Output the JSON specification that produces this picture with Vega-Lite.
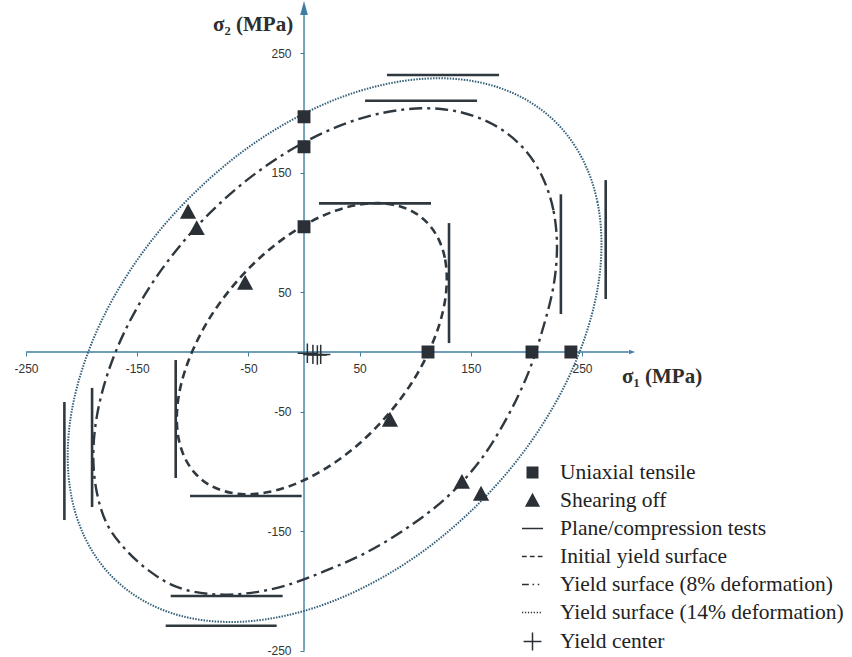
{
  "$schema": "https://vega.github.io/schema/vega-lite/v6.json",
  "width": 852,
  "height": 657,
  "autosize": {"type": "none"},
  "padding": 0,
  "background": "white",
  "config": {"view": {"stroke": null}},
  "datasets": {
    "axisLines": [
      {"s1": -250, "s2": 0, "s1e": 292, "s2e": 0},
      {"s1": 0, "s2": -250, "s1e": 0, "s2e": 286}
    ],
    "arrowX": [{"s1": 295, "s2": 0}],
    "arrowY": [{"s1": 0, "s2": 288}],
    "titles": [
      {"s1": 286, "s2": -20.7, "label": "σ₁ (MPa)"},
      {"s1": -81.8, "s2": 273.6, "label": "σ₂ (MPa)"}
    ],
    "planeTests": [
      {"s1": 13.5, "s2": 124.4, "s1e": 114.2, "s2e": 124.4},
      {"s1": 130.4, "s2": 7.5, "s1e": 130.4, "s2e": 107.9},
      {"s1": -102.5, "s2": -120.5, "s1e": -2.1, "s2e": -120.5},
      {"s1": -115.4, "s2": -6.7, "s1e": -115.4, "s2e": -105.4},
      {"s1": 54.9, "s2": 210.3, "s1e": 155.6, "s2e": 210.3},
      {"s1": 231, "s2": 31.8, "s1e": 231, "s2e": 132},
      {"s1": -119.9, "s2": -204.2, "s1e": -19.2, "s2e": -204.2},
      {"s1": -190.6, "s2": -30, "s1e": -190.6, "s2e": -129.7},
      {"s1": 74.6, "s2": 231.8, "s1e": 175.4, "s2e": 231.8},
      {"s1": 271.3, "s2": 44.4, "s1e": 271.3, "s2e": 143.9},
      {"s1": -124.4, "s2": -229, "s1e": -24.6, "s2e": -229},
      {"s1": -215.5, "s2": -41.8, "s1e": -215.5, "s2e": -140.6}
    ],
    "tests": [
      {"kind": "Uniaxial tensile", "s1": 0, "s2": 196.9},
      {"kind": "Uniaxial tensile", "s1": 0, "s2": 171.8},
      {"kind": "Uniaxial tensile", "s1": 0, "s2": 104.9},
      {"kind": "Uniaxial tensile", "s1": 111.5, "s2": 0},
      {"kind": "Uniaxial tensile", "s1": 205, "s2": 0},
      {"kind": "Uniaxial tensile", "s1": 240, "s2": 0},
      {"kind": "Shearing off", "s1": -53, "s2": 57.7},
      {"kind": "Shearing off", "s1": 77.3, "s2": -56.9},
      {"kind": "Shearing off", "s1": -96.5, "s2": 103.5},
      {"kind": "Shearing off", "s1": 142, "s2": -108.8},
      {"kind": "Shearing off", "s1": -104.3, "s2": 117.2},
      {"kind": "Shearing off", "s1": 159.2, "s2": -118.8},
      {"kind": "Yield center", "s1": 3, "s2": -1},
      {"kind": "Yield center", "s1": 8, "s2": -2},
      {"kind": "Yield center", "s1": 12, "s2": -2.5},
      {"kind": "Yield center", "s1": 15, "s2": -2}
    ],
    "surfaces": [
      {"surface": "initial", "i": 0, "s1": 128.4, "s2": 61.3},
      {"surface": "initial", "i": 1, "s1": 126.6, "s2": 78.9},
      {"surface": "initial", "i": 2, "s1": 121.1, "s2": 94.3},
      {"surface": "initial", "i": 3, "s1": 112.1, "s2": 106.9},
      {"surface": "initial", "i": 4, "s1": 100.0, "s2": 116.3},
      {"surface": "initial", "i": 5, "s1": 85.0, "s2": 122.2},
      {"surface": "initial", "i": 6, "s1": 67.7, "s2": 124.6},
      {"surface": "initial", "i": 7, "s1": 48.5, "s2": 123.2},
      {"surface": "initial", "i": 8, "s1": 28.1, "s2": 118.2},
      {"surface": "initial", "i": 9, "s1": 7.0, "s2": 109.6},
      {"surface": "initial", "i": 10, "s1": -14.1, "s2": 97.8},
      {"surface": "initial", "i": 11, "s1": -34.5, "s2": 83.2},
      {"surface": "initial", "i": 12, "s1": -53.7, "s2": 66.0},
      {"surface": "initial", "i": 13, "s1": -71.0, "s2": 47.0},
      {"surface": "initial", "i": 14, "s1": -86.0, "s2": 26.7},
      {"surface": "initial", "i": 15, "s1": -98.1, "s2": 5.5},
      {"surface": "initial", "i": 16, "s1": -107.1, "s2": -15.7},
      {"surface": "initial", "i": 17, "s1": -112.6, "s2": -36.3},
      {"surface": "initial", "i": 18, "s1": -114.4, "s2": -55.7},
      {"surface": "initial", "i": 19, "s1": -112.6, "s2": -73.3},
      {"surface": "initial", "i": 20, "s1": -107.1, "s2": -88.7},
      {"surface": "initial", "i": 21, "s1": -98.1, "s2": -101.3},
      {"surface": "initial", "i": 22, "s1": -86.0, "s2": -110.7},
      {"surface": "initial", "i": 23, "s1": -71.0, "s2": -116.6},
      {"surface": "initial", "i": 24, "s1": -53.7, "s2": -119.0},
      {"surface": "initial", "i": 25, "s1": -34.5, "s2": -117.6},
      {"surface": "initial", "i": 26, "s1": -14.1, "s2": -112.6},
      {"surface": "initial", "i": 27, "s1": 7.0, "s2": -104.0},
      {"surface": "initial", "i": 28, "s1": 28.1, "s2": -92.2},
      {"surface": "initial", "i": 29, "s1": 48.5, "s2": -77.6},
      {"surface": "initial", "i": 30, "s1": 67.7, "s2": -60.4},
      {"surface": "initial", "i": 31, "s1": 85.0, "s2": -41.4},
      {"surface": "initial", "i": 32, "s1": 100.0, "s2": -21.1},
      {"surface": "initial", "i": 33, "s1": 112.1, "s2": 0.1},
      {"surface": "initial", "i": 34, "s1": 121.1, "s2": 21.3},
      {"surface": "initial", "i": 35, "s1": 126.6, "s2": 41.9},
      {"surface": "8%", "i": 0, "s1": 227.5, "s2": 88.0},
      {"surface": "8%", "i": 1, "s1": 224.3, "s2": 118.6},
      {"surface": "8%", "i": 2, "s1": 214.9, "s2": 145.5},
      {"surface": "8%", "i": 3, "s1": 199.6, "s2": 168.2},
      {"surface": "8%", "i": 4, "s1": 178.7, "s2": 185.6},
      {"surface": "8%", "i": 5, "s1": 153.0, "s2": 197.4},
      {"surface": "8%", "i": 6, "s1": 123.3, "s2": 203.4},
      {"surface": "8%", "i": 7, "s1": 90.3, "s2": 203.0},
      {"surface": "8%", "i": 8, "s1": 55.2, "s2": 196.6},
      {"surface": "8%", "i": 9, "s1": 19.0, "s2": 184.2},
      {"surface": "8%", "i": 10, "s1": -17.2, "s2": 166.2},
      {"surface": "8%", "i": 11, "s1": -52.3, "s2": 143.2},
      {"surface": "8%", "i": 12, "s1": -85.3, "s2": 115.8},
      {"surface": "8%", "i": 13, "s1": -115.0, "s2": 85.0},
      {"surface": "8%", "i": 14, "s1": -140.7, "s2": 51.6},
      {"surface": "8%", "i": 15, "s1": -161.6, "s2": 16.6},
      {"surface": "8%", "i": 16, "s1": -176.9, "s2": -18.9},
      {"surface": "8%", "i": 17, "s1": -186.3, "s2": -53.8},
      {"surface": "8%", "i": 18, "s1": -189.5, "s2": -87.0},
      {"surface": "8%", "i": 19, "s1": -186.3, "s2": -117.6},
      {"surface": "8%", "i": 20, "s1": -176.9, "s2": -144.5},
      {"surface": "8%", "i": 21, "s1": -160.1, "s2": -165.7},
      {"surface": "8%", "i": 22, "s1": -139.2, "s2": -183.1},
      {"surface": "8%", "i": 23, "s1": -115.0, "s2": -196.4},
      {"surface": "8%", "i": 24, "s1": -85.3, "s2": -202.4},
      {"surface": "8%", "i": 25, "s1": -52.3, "s2": -202.0},
      {"surface": "8%", "i": 26, "s1": -17.2, "s2": -195.6},
      {"surface": "8%", "i": 27, "s1": 19.0, "s2": -183.2},
      {"surface": "8%", "i": 28, "s1": 57.2, "s2": -167.2},
      {"surface": "8%", "i": 29, "s1": 94.3, "s2": -146.2},
      {"surface": "8%", "i": 30, "s1": 129.3, "s2": -120.8},
      {"surface": "8%", "i": 31, "s1": 159.0, "s2": -90.0},
      {"surface": "8%", "i": 32, "s1": 182.7, "s2": -54.6},
      {"surface": "8%", "i": 33, "s1": 201.6, "s2": -17.6},
      {"surface": "8%", "i": 34, "s1": 214.9, "s2": 19.9},
      {"surface": "8%", "i": 35, "s1": 224.3, "s2": 54.8},
      {"surface": "14%", "i": 0, "s1": 267.5, "s2": 90.3},
      {"surface": "14%", "i": 1, "s1": 263.9, "s2": 125.4},
      {"surface": "14%", "i": 2, "s1": 253.0, "s2": 156.6},
      {"surface": "14%", "i": 3, "s1": 235.3, "s2": 183.2},
      {"surface": "14%", "i": 4, "s1": 211.3, "s2": 204.2},
      {"surface": "14%", "i": 5, "s1": 181.8, "s2": 219.1},
      {"surface": "14%", "i": 6, "s1": 147.5, "s2": 227.4},
      {"surface": "14%", "i": 7, "s1": 109.6, "s2": 228.8},
      {"surface": "14%", "i": 8, "s1": 69.2, "s2": 223.3},
      {"surface": "14%", "i": 9, "s1": 27.5, "s2": 211.1},
      {"surface": "14%", "i": 10, "s1": -14.2, "s2": 192.5},
      {"surface": "14%", "i": 11, "s1": -54.6, "s2": 168.2},
      {"surface": "14%", "i": 12, "s1": -92.5, "s2": 138.6},
      {"surface": "14%", "i": 13, "s1": -126.8, "s2": 105.1},
      {"surface": "14%", "i": 14, "s1": -156.3, "s2": 68.4},
      {"surface": "14%", "i": 15, "s1": -180.3, "s2": 29.6},
      {"surface": "14%", "i": 16, "s1": -198.0, "s2": -10.2},
      {"surface": "14%", "i": 17, "s1": -208.9, "s2": -49.4},
      {"surface": "14%", "i": 18, "s1": -212.5, "s2": -87.1},
      {"surface": "14%", "i": 19, "s1": -208.9, "s2": -122.2},
      {"surface": "14%", "i": 20, "s1": -198.0, "s2": -153.4},
      {"surface": "14%", "i": 21, "s1": -180.3, "s2": -180.0},
      {"surface": "14%", "i": 22, "s1": -156.3, "s2": -201.0},
      {"surface": "14%", "i": 23, "s1": -126.8, "s2": -215.9},
      {"surface": "14%", "i": 24, "s1": -92.5, "s2": -224.2},
      {"surface": "14%", "i": 25, "s1": -54.6, "s2": -225.6},
      {"surface": "14%", "i": 26, "s1": -14.2, "s2": -220.1},
      {"surface": "14%", "i": 27, "s1": 27.5, "s2": -207.9},
      {"surface": "14%", "i": 28, "s1": 69.2, "s2": -189.3},
      {"surface": "14%", "i": 29, "s1": 109.6, "s2": -165.0},
      {"surface": "14%", "i": 30, "s1": 147.5, "s2": -135.4},
      {"surface": "14%", "i": 31, "s1": 181.8, "s2": -101.9},
      {"surface": "14%", "i": 32, "s1": 211.3, "s2": -65.2},
      {"surface": "14%", "i": 33, "s1": 235.3, "s2": -26.4},
      {"surface": "14%", "i": 34, "s1": 253.0, "s2": 13.4},
      {"surface": "14%", "i": 35, "s1": 263.9, "s2": 52.6}
    ]
  },
  "encoding": {
    "x": {
      "field": "s1",
      "type": "quantitative",
      "scale": {"domain": [-273.4, 492.8], "nice": false, "zero": false},
      "axis": {
        "title": null,
        "offset": -305,
        "values": [-250, -150, -50, 50, 150, 250],
        "labelExpr": "datum.value < 0 ? '-' + abs(datum.value) : '' + datum.value",
        "domain": false,
        "grid": false,
        "tickSize": 4,
        "tickColor": "#3f7ea3",
        "labelFont": "Liberation Sans",
        "labelFontSize": 12,
        "labelColor": "#333333",
        "labelPadding": 7,
        "labelFlush": false,
        "labelOverlap": false
      }
    },
    "y": {
      "field": "s2",
      "type": "quantitative",
      "scale": {"domain": [-255.2, 294.6], "nice": false, "zero": false},
      "axis": {
        "title": null,
        "offset": -304,
        "values": [-250, -150, -50, 50, 150, 250],
        "labelExpr": "datum.value < 0 ? '-' + abs(datum.value) : '' + datum.value",
        "domain": false,
        "grid": false,
        "tickSize": 4,
        "tickColor": "#3f7ea3",
        "labelFont": "Liberation Sans",
        "labelFontSize": 12,
        "labelColor": "#333333",
        "labelPadding": 9,
        "labelFlush": false,
        "labelOverlap": false
      }
    }
  },
  "layer": [
    {
      "data": {"name": "axisLines"},
      "mark": {"type": "rule", "color": "#3f7ea3", "strokeWidth": 1.4},
      "encoding": {"x2": {"field": "s1e"}, "y2": {"field": "s2e"}}
    },
    {
      "data": {"name": "arrowX"},
      "mark": {"type": "point", "shape": "M1,0L-1,-0.75L-1,0.75Z", "size": 36, "filled": true, "color": "#3f7ea3", "opacity": 1}
    },
    {
      "data": {"name": "arrowY"},
      "mark": {"type": "point", "shape": "M0,-1L0.55,1L-0.55,1Z", "size": 196, "filled": true, "color": "#3f7ea3", "opacity": 1}
    },
    {
      "data": {"name": "titles"},
      "mark": {"type": "text", "align": "left", "baseline": "middle", "font": "Liberation Serif", "fontSize": 21, "fontWeight": "bold", "color": "#2e2e2e"},
      "encoding": {"text": {"field": "label"}}
    },
    {
      "data": {"name": "planeTests"},
      "mark": {"type": "rule", "color": "#2f383f", "strokeWidth": 2.6},
      "encoding": {"x2": {"field": "s1e"}, "y2": {"field": "s2e"}}
    },
    {
      "data": {"name": "surfaces"},
      "transform": [{"filter": "datum.surface === 'initial'"}],
      "mark": {"type": "line", "interpolate": "cardinal-closed", "color": "#2f383f", "strokeWidth": 2.6, "strokeDash": [8, 5]},
      "encoding": {"order": {"field": "i", "type": "quantitative"}}
    },
    {
      "data": {"name": "surfaces"},
      "transform": [{"filter": "datum.surface === '8%'"}],
      "mark": {"type": "line", "interpolate": "cardinal-closed", "color": "#2f383f", "strokeWidth": 2.4, "strokeDash": [13, 5, 3, 5]},
      "encoding": {"order": {"field": "i", "type": "quantitative"}}
    },
    {
      "data": {"name": "surfaces"},
      "transform": [{"filter": "datum.surface === '14%'"}],
      "mark": {"type": "line", "interpolate": "cardinal-closed", "color": "#34607a", "strokeWidth": 2, "strokeDash": [1.5, 1.3]},
      "encoding": {"order": {"field": "i", "type": "quantitative"}}
    },
    {
      "data": {"name": "tests"},
      "mark": {"type": "point", "filled": true, "fill": "#2a3036", "stroke": "#2a3036", "strokeWidth": 1.5, "opacity": 1, "size": 520},
      "encoding": {
        "shape": {
          "field": "kind",
          "type": "nominal",
          "scale": {
            "domain": [
              "Uniaxial tensile",
              "Shearing off",
              "Plane/compression tests",
              "Initial yield surface",
              "Yield surface  (8% deformation)",
              "Yield surface (14% deformation)",
              "Yield center"
            ],
            "range": [
              "M-0.5,-0.5H0.5V0.5H-0.5Z",
              "M0,-0.58L0.6,0.52L-0.6,0.52Z",
              "M-1,0H1",
              "M-1,0H-0.55M-0.25,0H0.2M0.5,0H0.95",
              "M-1,0H-0.35M0,0H0.15M0.5,0H0.65",
              "M-1,0H-0.88M-0.72,0H-0.6M-0.44,0H-0.32M-0.16,0H-0.04M0.12,0H0.24M0.4,0H0.52M0.68,0H0.8",
              "M-0.85,0H0.85M0,-0.85V0.85"
            ]
          },
          "legend": {
            "title": null,
            "orient": "none",
            "legendX": 521,
            "legendY": 461,
            "padding": 0,
            "symbolSize": 441,
            "rowPadding": 6,
            "labelOffset": 16,
            "labelFont": "Liberation Serif",
            "labelFontSize": 21.5,
            "labelColor": "#222222",
            "labelLimit": 400,
            "encode": {
              "symbols": {
                "update": {
                  "fill": {"value": "#2a3036"},
                  "stroke": {"value": "#2a3036"},
                  "strokeWidth": {"value": 2},
                  "opacity": {"value": 1}
                }
              }
            }
          }
        }
      }
    }
  ]
}
